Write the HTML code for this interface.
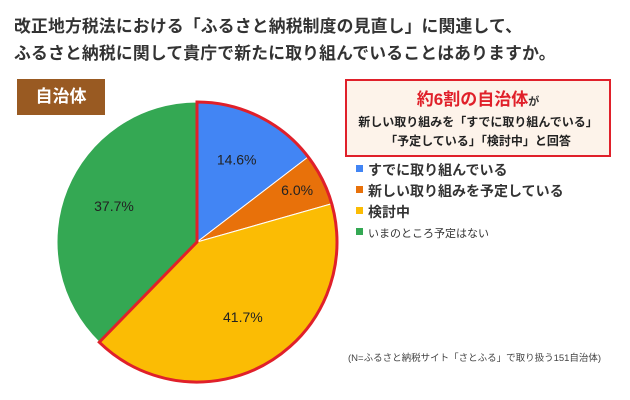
<!DOCTYPE html>
<html><head><meta charset="utf-8"><style>
body{margin:0;width:630px;height:400px;background:#fff;font-family:"Liberation Sans","Noto Sans CJK JP",sans-serif;overflow:hidden;position:relative}
.t{position:absolute;left:14px;font-size:16.8px;color:#333;font-weight:bold;letter-spacing:0.2px}
</style></head><body>
<div class="t" style="top:13px">改正地方税法における「ふるさと納税制度の見直し」に関連して、</div>
<div class="t" style="top:40px">ふるさと納税に関して貴庁で新たに取り組んでいることはありますか。</div>
<div style="position:absolute;left:17px;top:79px;width:88px;height:36px;background:#995a22;color:#fff;font-weight:bold;font-size:17px;line-height:36px;text-align:center">自治体</div>
<div style="position:absolute;left:345px;top:79px;width:262px;height:74px;border:2px solid #e0202a;background:#fdf3ea;text-align:center;color:#222">
<div style="margin-top:4px;font-size:17px;font-weight:bold;color:#e0202a">約6割の自治体<span style="font-size:11px;color:#333">が</span></div>
<div style="font-size:12px;font-weight:bold;margin-top:3px">新しい取り組みを「すでに取り組んでいる」</div>
<div style="font-size:12px;font-weight:bold;margin-top:2px">「予定している」「検討中」と回答</div>
</div>
<svg id="chart" width="630" height="400" style="position:absolute;left:0;top:0"></svg>
<div style="position:absolute;left:348px;top:350px;font-size:9.5px;color:#444">(N=ふるさと納税サイト「さとふる」で取り扱う151自治体)</div>
<script>
const categories=["すでに取り組んでいる","新しい取り組みを予定している","検討中","いまのところ予定はない"];
const values=[14.6,6.0,41.7,37.7];
const labels=["14.6%","6.0%","41.7%","37.7%"];
const colors=["#4285f4","#e8710a","#fbbc04","#34a853"];
const NS="http://www.w3.org/2000/svg";
const svg=document.getElementById('chart');
const cx=197,cy=242,r=140;
const total=values.reduce((a,b)=>a+b,0);
function pt(frac,rad){const a=frac*2*Math.PI;return [cx+rad*Math.sin(a),cy-rad*Math.cos(a)];}
let acc=0;
values.forEach((v,i)=>{
  const s=acc/total,e=(acc+v)/total;acc+=v;
  const p0=pt(s,r),p1=pt(e,r);
  const large=(e-s)>0.5?1:0;
  const path=document.createElementNS(NS,'path');
  path.setAttribute('d',`M${cx},${cy} L${p0[0]},${p0[1]} A${r},${r} 0 ${large} 1 ${p1[0]},${p1[1]} Z`);
  path.setAttribute('fill',colors[i]);path.setAttribute('stroke','#fff');path.setAttribute('stroke-width','1');
  
  
  svg.appendChild(path);
  const f=v<10?0.8:0.64;
  const lp=pt((s+e)/2,r*f);
  const tx=document.createElementNS(NS,'text');
  tx.setAttribute('x',lp[0]);tx.setAttribute('y',lp[1]+3);tx.setAttribute('text-anchor','middle');
  tx.setAttribute('font-size','14');tx.setAttribute('fill','#222');tx.setAttribute('font-family','Liberation Sans, sans-serif');
  tx.textContent=labels[i];
  
  
  svg.appendChild(tx);
});
const hiFrac=(values[0]+values[1]+values[2])/total;
const q=pt(hiFrac,r),q0=pt(0,r);
const outline=document.createElementNS(NS,'path');
outline.setAttribute('d',`M${cx},${cy} L${q0[0]},${q0[1]} A${r},${r} 0 ${hiFrac>0.5?1:0} 1 ${q[0]},${q[1]} Z`);
outline.setAttribute('fill','none');outline.setAttribute('stroke','#e0202a');outline.setAttribute('stroke-width','3');


svg.appendChild(outline);
const ly=[170,191,212,233],fs=[14,14,14,11];
categories.forEach((c,i)=>{
  const rc=document.createElementNS(NS,'rect');
  rc.setAttribute('x',356);rc.setAttribute('y',ly[i]-5);rc.setAttribute('width',7);rc.setAttribute('height',7);rc.setAttribute('fill',colors[i]);
  
  
  svg.appendChild(rc);
  const t=document.createElementNS(NS,'text');
  t.setAttribute('x',368);t.setAttribute('y',ly[i]+(i<3?5:4));t.setAttribute('font-size',fs[i]);
  t.setAttribute('font-weight',i<3?'bold':'normal');t.setAttribute('fill','#333');
  t.setAttribute('font-family','Liberation Sans, Noto Sans CJK JP, sans-serif');
  t.textContent=c;
  
  
  svg.appendChild(t);
});
</script>
</body></html>
